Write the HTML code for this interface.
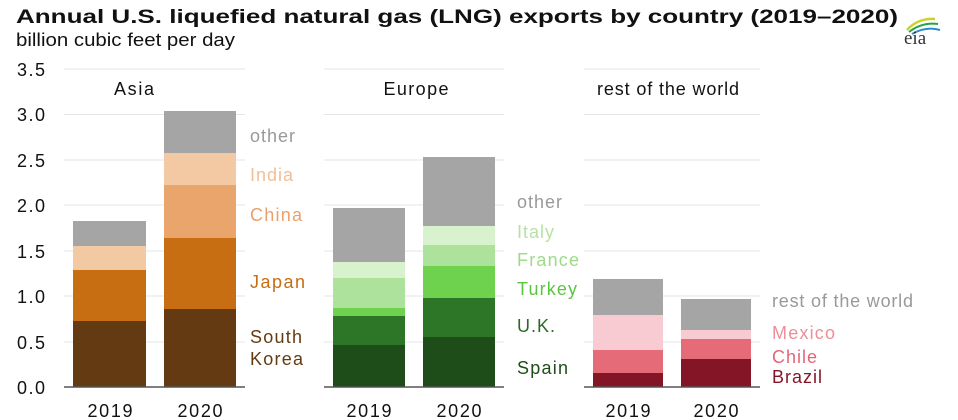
<!DOCTYPE html>
<html><head><meta charset="utf-8"><style>
html,body{margin:0;padding:0;background:#fff;}
svg{display:block;font-family:"Liberation Sans",Arial,sans-serif;}
</style></head><body>
<svg width="958" height="420" viewBox="0 0 958 420" xmlns="http://www.w3.org/2000/svg">
<text x="16" y="23" font-size="19" font-weight="bold" fill="#111" textLength="882" lengthAdjust="spacingAndGlyphs">Annual U.S. liquefied natural gas (LNG) exports by country (2019–2020)</text>
<text x="16" y="46" font-size="18" fill="#111" textLength="219" lengthAdjust="spacingAndGlyphs">billion cubic feet per day</text>
<!-- eia logo -->
<path d="M907 30 Q918 18 935 19" stroke="#c9d42a" stroke-width="2.5" fill="none"/>
<path d="M909 32 Q922 22 938 24" stroke="#27a24a" stroke-width="2" fill="none"/>
<path d="M912 34 Q926 26 940 30" stroke="#2a8fc9" stroke-width="2" fill="none"/>
<text x="904" y="44" font-family="Liberation Serif,serif" font-size="19" fill="#333">eia</text>
<!-- y ticks -->
<g font-size="18" fill="#111" text-anchor="start" lengthAdjust="spacingAndGlyphs">
<text x="17" y="76" textLength="28">3.5</text><text x="17" y="121" textLength="28">3.0</text><text x="17" y="167" textLength="28">2.5</text>
<text x="17" y="212" textLength="28">2.0</text><text x="17" y="258" textLength="28">1.5</text><text x="17" y="303" textLength="28">1.0</text>
<text x="17" y="349" textLength="28">0.5</text><text x="17" y="394" textLength="28">0.0</text>
</g>
<!-- gridlines -->
<g stroke="#e6e6e6" stroke-width="1">
<path d="M64 69H245M64 114.5H245M64 160H245M64 205H245M64 251H245M64 296H245M64 342H245"/>
<path d="M324 69H504M324 114.5H504M324 160H504M324 205H504M324 251H504M324 296H504M324 342H504"/>
<path d="M584 69H760M584 114.5H760M584 160H760M584 205H760M584 251H760M584 296H760M584 342H760"/>
</g>
<!-- Asia -->
<rect x="73" y="321" width="73" height="66" fill="#633a11"/>
<rect x="73" y="270" width="73" height="51" fill="#c76d12"/>
<rect x="73" y="246" width="73" height="24" fill="#f2c9a2"/>
<rect x="73" y="221" width="73" height="25" fill="#a5a5a5"/>
<rect x="164" y="309" width="72" height="78" fill="#633a11"/>
<rect x="164" y="238" width="72" height="71" fill="#c76d12"/>
<rect x="164" y="185" width="72" height="53" fill="#e9a56c"/>
<rect x="164" y="153" width="72" height="32" fill="#f2c9a2"/>
<rect x="164" y="111" width="72" height="42" fill="#a5a5a5"/>
<!-- Europe -->
<rect x="333" y="345" width="72" height="42" fill="#1f4d1a"/>
<rect x="333" y="316" width="72" height="29" fill="#2d7527"/>
<rect x="333" y="308" width="72" height="8" fill="#6fd24e"/>
<rect x="333" y="278" width="72" height="30" fill="#ade29c"/>
<rect x="333" y="262" width="72" height="16" fill="#d7f2cd"/>
<rect x="333" y="208" width="72" height="54" fill="#a5a5a5"/>
<rect x="423" y="337" width="72" height="50" fill="#1f4d1a"/>
<rect x="423" y="298" width="72" height="39" fill="#2d7527"/>
<rect x="423" y="266" width="72" height="32" fill="#6fd24e"/>
<rect x="423" y="245" width="72" height="21" fill="#ade29c"/>
<rect x="423" y="226" width="72" height="19" fill="#d7f2cd"/>
<rect x="423" y="157" width="72" height="69" fill="#a5a5a5"/>
<!-- Rest -->
<rect x="593" y="373" width="70" height="14" fill="#841526"/>
<rect x="593" y="350" width="70" height="23" fill="#e56b78"/>
<rect x="593" y="315" width="70" height="35" fill="#f8cbd2"/>
<rect x="593" y="279" width="70" height="36" fill="#a5a5a5"/>
<rect x="681" y="359" width="70" height="28" fill="#841526"/>
<rect x="681" y="339" width="70" height="20" fill="#e56b78"/>
<rect x="681" y="330" width="70" height="9" fill="#f8cbd2"/>
<rect x="681" y="299" width="70" height="31" fill="#a5a5a5"/>
<!-- baselines -->
<g stroke="#555" stroke-width="1.5">
<path d="M64 387H245M324 387H504M584 387H760"/>
</g>
<!-- panel titles -->
<g font-size="18" fill="#111" text-anchor="middle" lengthAdjust="spacingAndGlyphs">
<text x="134" y="95" textLength="40">Asia</text><text x="416" y="95" textLength="65">Europe</text><text x="668" y="95" textLength="142">rest of the world</text>
</g>
<!-- x labels -->
<g font-size="18" fill="#111" text-anchor="middle" lengthAdjust="spacingAndGlyphs">
<text x="110" y="417" textLength="45">2019</text><text x="200" y="417" textLength="45">2020</text>
<text x="369" y="417" textLength="45">2019</text><text x="459" y="417" textLength="45">2020</text>
<text x="628" y="417" textLength="45">2019</text><text x="716" y="417" textLength="45">2020</text>
</g>
<!-- Asia labels -->
<g font-size="18" lengthAdjust="spacingAndGlyphs">
<text x="250" y="142" fill="#999" textLength="45">other</text>
<text x="250" y="181" fill="#f0bf98" textLength="43">India</text>
<text x="250" y="221" fill="#e9a06a" textLength="52">China</text>
<text x="250" y="288" fill="#c76d12" textLength="55">Japan</text>
<text x="250" y="343" fill="#633a11" textLength="52">South</text>
<text x="250" y="365" fill="#633a11" textLength="53">Korea</text>
</g>
<g font-size="18" lengthAdjust="spacingAndGlyphs">
<text x="517" y="208" fill="#999" textLength="45">other</text>
<text x="517" y="238" fill="#b5e3a5" textLength="37">Italy</text>
<text x="517" y="266" fill="#9ddb8a" textLength="62">France</text>
<text x="517" y="295" fill="#5cc540" textLength="60">Turkey</text>
<text x="517" y="332" fill="#2d6a27" textLength="38">U.K.</text>
<text x="517" y="374" fill="#1f4d1a" textLength="51">Spain</text>
</g>
<g font-size="18" lengthAdjust="spacingAndGlyphs">
<text x="772" y="307" fill="#999" textLength="141">rest of the world</text>
<text x="772" y="339" fill="#ee8e99" textLength="63">Mexico</text>
<text x="772" y="363" fill="#e06876" textLength="45">Chile</text>
<text x="772" y="383" fill="#841526" textLength="50">Brazil</text>
</g>
</svg>
</body></html>
